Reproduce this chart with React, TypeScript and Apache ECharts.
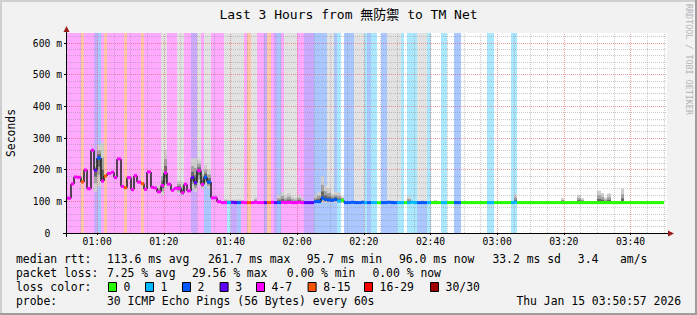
import React, { useEffect, useRef } from "react";
import * as echarts from "echarts";

// ---------------- text ----------------
const TITLE = "Last 3 Hours from 無防禦 to TM Net";
const UNIT_LABEL = "Seconds";
const WATERMARK = "RRDTOOL / TOBI OETIKER";
const RTT_HEAD = "median rtt:";
const rttStats = ["113.6 ms avg", "261.7 ms max", "95.7 ms min", "96.0 ms now", "33.2 ms sd", "3.4", "am/s"];
const LOSS_HEAD = "packet loss:";
const lossStats = ["7.25 % avg", "29.56 % max", "0.00 % min", "0.00 % now"];
const COLOR_HEAD = "loss color:";
const lossLabels = ["0", "1", "2", "3", "4-7", "8-15", "16-29", "30/30"];
const PROBE_HEAD = "probe:";
const PROBE_TEXT = "30 ICMP Echo Pings (56 Bytes) every 60s";
const STAMP_TEXT = "Thu Jan 15 03:50:57 2026";

// ---------------- axes (minutes after midnight) ----------------
const X_START = 50.95; // 00:50:57
const X_END = 230.95; // 03:50:57
const Y_TOP = 631.58;
const FIRST_STEP = 51; // first 60 s step starts at 00:51
const xMajorTicks = [60, 80, 100, 120, 140, 160, 180, 200, 220];
const xMinorTicks = [55, 65, 70, 75, 85, 90, 95, 105, 110, 115, 125, 130, 135, 145, 150, 155, 165, 170, 175, 185, 190, 195, 205, 210, 215, 225, 230];
const yLabelTicks = [0, 100, 200, 300, 400, 500, 600];
const yMajorTicks = [100, 200, 300, 400, 500, 600];
const yMinorTicks = [20, 40, 60, 80, 120, 140, 160, 180, 220, 240, 260, 280, 320, 340, 360, 380, 420, 440, 460, 480, 520, 540, 560, 580, 620];

// ---------------- data, one value per 60 s step ----------------
const medianRtt = [
  110, 155, 177, 176, 161, 199, 140, 261.7, 198, 237,
  164, 180, 188, 192, 175, 234, 147, 143, 175, 137,
  181, 161, 156, 138, 193, 144, 142, 130, 150, 190,
  154, 135, 141, 141, 127, 154, 133, 175, 159, 197,
  153, 176, 161, 111, 111, 99, 96, 96, 96, 97,
  96, 96, 97, 96, 96, 96, 97, 96, 96, 96,
  96, 97, 96, 96, 97, 96, 97, 96, 96, 97,
  96, 96, 96, 96, 99, 99, 110, 106, 104, 103,
  106, 101, 103, 96, 96, 97, 96, 96, 97, 96,
  96, 96, 96, 95.7, 96, 96, 97, 96, 96, 96,
  96, 96, 96, 97, 96, 96, 96, 96, 96, 96,
  96, 96, 96, 96, 96, 96, 96, 96, 96, 96,
  96, 96, 96, 96, 96, 96, 96, 96, 96, 96,
  96, 96, 96, 96, 97, 96, 96, 96, 96, 96,
  96, 96, 96, 96, 96, 96, 96, 96, 96, 96,
  96, 96, 96, 96, 96, 96, 96, 96, 96, 96,
  96, 96, 96, 96, 96, 96, 96, 96, 96, 96,
  96, 96, 96, 96, 96, 96, 96, 96, 96,
];

// loss bucket index: 0="0", 1="1", 2="2", 3="3", 4="4-7", 5="8-15", 6="16-29", 7="30/30"
const lossBin = [
  4, 4, 4, 4, 5, 4, 4, 4, 3, 2,
  4, 5, 4, 4, 4, 4, 4, 5, 4, 4,
  4, 4, 5, 4, 4, 4, 4, 4, 4, 4,
  4, 4, 4, 4, 4, 4, 4, 3, 3, 4,
  4, 2, 2, 4, 4, 4, 4, 4, 1, 3,
  3, 2, 4, 4, 5, 4, 4, 4, 4, 3,
  5, 4, 3, 2, 4, 4, 4, 4, 4, 4,
  4, 3, 3, 3, 2, 2, 2, 2, 2, 2,
  2, 1, 0, 2, 2, 2, 2, 2, 2, 1,
  2, 1, 1, 0, 2, 2, 2, 2, 2, 1,
  1, 0, 1, 1, 1, 2, 2, 2, 1, 0,
  0, 0, 1, 1, 0, 0, 2, 2, 0, 0,
  0, 0, 0, 0, 0, 0, 1, 1, 0, 0,
  0, 0, 0, 1, 1, 0, 0, 0, 0, 0,
  0, 0, 0, 0, 0, 0, 0, 0, 0, 0,
  0, 0, 0, 0, 0, 0, 0, 0, 0, 0,
  0, 0, 0, 0, 0, 0, 0, 0, 0, 0,
  0, 0, 0, 0, 0, 0, 0, 0, 0,
];

const smokeLow = [
  106, 151, 173, 172, 157, 195, 136, 258, 130, 146,
  158, 176, 184, 188, 171, 230, 143, 139, 171, 133,
  177, 157, 152, 134, 189, 140, 138, 124, 120, 140,
  150, 131, 137, 125, 118, 150, 129, 140, 130, 150,
  140, 150, 140, 107, 107, 95, 94, 94, 94, 94,
  94, 94, 94, 94, 94, 94, 94, 94, 94, 94,
  94, 94, 94, 94, 94, 94, 94, 94, 94, 94,
  94, 94, 94, 94, 95, 95, 97, 96, 96, 96,
  96, 95, 95, 94, 94, 94, 94, 94, 94, 94,
  94, 94, 94, 94, 94, 94, 94, 94, 94, 94,
  94, 94, 94, 94, 94, 94, 94, 94, 94, 94,
  94, 94, 94, 94, 94, 94, 94, 94, 94, 94,
  94, 94, 94, 94, 94, 94, 94, 94, 94, 94,
  94, 94, 94, 94, 94, 94, 94, 94, 94, 94,
  94, 94, 94, 94, 94, 94, 94, 94, 94, 94,
  94, 94, 94, 94, 94, 94, 94, 94, 94, 94,
  94, 94, 94, 94, 94, 94, 94, 94, 94, 94,
  94, 94, 94, 94, 94, 94, 94, 94, 94,
];

const smokeHigh = [
  115, 160, 182, 181, 166, 204, 145, 267, 220, 278,
  285, 185, 193, 197, 180, 239, 152, 148, 180, 142,
  186, 166, 161, 143, 198, 149, 147, 150, 200, 262,
  159, 140, 146, 165, 160, 159, 138, 236, 236, 232,
  200, 215, 200, 116, 116, 104, 100, 108, 106, 104,
  106, 106, 104, 99, 100, 99, 112, 99, 100, 99,
  100, 99, 99, 120, 130, 118, 126, 115, 112, 120,
  110, 100, 99, 100, 120, 130, 180, 150, 141, 125,
  130, 128, 115, 100, 99, 100, 104, 99, 103, 99,
  99, 100, 99, 99, 100, 99, 102, 104, 99, 100,
  99, 99, 115, 100, 99, 99, 104, 99, 99, 99,
  104, 99, 99, 100, 99, 99, 100, 99, 99, 99,
  99, 99, 99, 99, 99, 99, 99, 100, 99, 99,
  99, 99, 99, 100, 123, 99, 99, 99, 99, 99,
  99, 99, 99, 99, 99, 99, 99, 99, 110, 99,
  99, 99, 99, 120, 110, 99, 99, 99, 99, 134,
  126, 112, 125, 99, 99, 99, 140, 99, 99, 99,
  99, 99, 99, 99, 99, 99, 99, 99, 99,
];

// steps whose outer smoke runs past the top of the graph
const overflowSteps = [28, 29, 33, 34, 39, 41, 42, 47, 48, 49, 50, 51, 52, 55, 56, 65, 66, 67, 68, 78, 79, 86, 87, 88, 96, 97, 98, 99, 105, 106, 107];

// ---------------- styles ----------------
const LOSS_COLORS = ["#26ff00", "#00b8ff", "#0059ff", "#5e00ff", "#ff00ff", "#ff5500", "#ff0000", "#a00000"];
const LOSS_BG = ["#ffffff", "#aae8ff", "#aac8ff", "#c9aaff", "#ffaaff", "#ffc6aa", "#ffaaaa", "#dfaaaa"];
const SMOKE_LAYERS = [
  { f: 1, c: "#cfcfcf" },
  { f: 0.6, c: "#a2a2a2" },
  { f: 0.3, c: "#676767" },
];
const MONO = "'DejaVu Sans Mono', 'Noto Sans CJK JP', monospace";
const BG = "#f2f2f2";

const pad2 = (n: number) => (n < 10 ? "0" + n : "" + n);
const fmtTime = (v: number) => pad2(Math.floor(v / 60)) + ":" + pad2(Math.round(v % 60));

export default function App() {
  const ref = useRef<HTMLDivElement>(null);

  useEffect(() => {
    if (!ref.current) return;
    const chart = echarts.init(ref.current, undefined, { renderer: "svg" });

    const rows = medianRtt.map((m, i) => [
      FIRST_STEP + i,
      m,
      smokeLow[i],
      smokeHigh[i],
      lossBin[i],
      overflowSteps.indexOf(i) >= 0 ? 1 : 0,
    ]);

    const colX = (api: any, t: number) => Math.round(api.coord([t, 0])[0]);

    const bandItem = (params: any, api: any) => {
      const t = api.value(0);
      const loss = api.value(4);
      if (!loss) return null;
      const x0 = colX(api, t);
      const x1 = colX(api, t + 1);
      const top = api.coord([t, Y_TOP])[1];
      const bot = api.coord([t, 0])[1];
      return {
        type: "rect",
        shape: { x: x0, y: top, width: x1 - x0, height: bot - top },
        style: { fill: LOSS_BG[loss] },
      };
    };

    const smokeItem = (params: any, api: any) => {
      const t = api.value(0);
      const med = api.value(1);
      const lo = api.value(2);
      const hi = api.value(3);
      const over = api.value(5);
      const x0 = colX(api, t);
      const x1 = colX(api, t + 1);
      const children: any[] = [];
      if (over) {
        const top = api.coord([t, Y_TOP])[1];
        const y = api.coord([t, med])[1];
        children.push({ type: "rect", shape: { x: x0, y: top, width: x1 - x0, height: y - top }, style: { fill: "#e2e2e2" } });
      }
      SMOKE_LAYERS.forEach((L) => {
        const l = med - L.f * (med - lo);
        const h = med + L.f * (hi - med);
        const yh = api.coord([t, h])[1];
        const yl = api.coord([t, l])[1];
        children.push({ type: "rect", shape: { x: x0, y: yh, width: x1 - x0, height: yl - yh }, style: { fill: L.c } });
      });
      return { type: "group", children };
    };

    const connectorItem = (params: any, api: any) => {
      const i = params.dataIndexInside;
      if (i === 0) return null;
      const t = api.value(0);
      const m = api.value(1);
      const pm = api.value(1, i - 1);
      const x = colX(api, t);
      const y1 = api.coord([t, pm])[1];
      const y2 = api.coord([t, m])[1];
      return { type: "line", shape: { x1: x, y1, x2: x, y2 }, style: { stroke: "#1c1c1c", lineWidth: 1.5 } };
    };

    const segmentItem = (params: any, api: any) => {
      const t = api.value(0);
      const m = api.value(1);
      const loss = api.value(4);
      const x0 = colX(api, t);
      const x1 = colX(api, t + 1);
      const y = api.coord([t, m])[1];
      return { type: "rect", shape: { x: x0, y: y - 1.5, width: x1 - x0, height: 3 }, style: { fill: LOSS_COLORS[loss] } };
    };

    const gridMajor = { color: "rgba(222,80,80,0.55)", width: 1, type: [1, 1] };
    const gridMinor = { color: "rgba(140,140,140,0.45)", width: 1, type: [1, 1] };
    const markData: any[] = [
      ...xMinorTicks.map((v) => ({ xAxis: v, lineStyle: gridMinor })),
      ...yMinorTicks.map((v) => ({ yAxis: v, lineStyle: gridMinor })),
      ...xMajorTicks.map((v) => ({ xAxis: v, lineStyle: gridMajor })),
      ...yMajorTicks.map((v) => ({ yAxis: v, lineStyle: gridMajor })),
    ];

    const txt = (text: string, x: number, y: number, size: number, align = "left", extra: any = {}) => ({
      type: "text",
      x,
      y,
      z: 50,
      ...extra,
      style: { text, fontFamily: MONO, fontSize: size, fill: extra.fill || "#000", align, verticalAlign: "middle" },
    });

    const LEG = 11.4;
    const ROW = [259, 273, 287, 301];
    const RTT_X = [107, 208, 306.7, 399, 492.4, 577.8, 620];
    const LOSS_X = [107, 192, 286.7, 372.4];
    const BOX_X = [108, 145, 182, 219.6, 256, 307.6, 364, 430];

    const elements: any[] = [
      { type: "rect", z: 60, shape: { x: 0, y: 0, width: 697, height: 2 }, style: { fill: "#cfcfcf" } },
      { type: "rect", z: 60, shape: { x: 0, y: 0, width: 2, height: 315 }, style: { fill: "#cfcfcf" } },
      { type: "rect", z: 60, shape: { x: 0, y: 313, width: 697, height: 2 }, style: { fill: "#9e9e9e" } },
      { type: "rect", z: 60, shape: { x: 695, y: 0, width: 2, height: 315 }, style: { fill: "#9e9e9e" } },
      { type: "line", z: 50, shape: { x1: 63, y1: 233.5, x2: 668, y2: 233.5 }, style: { stroke: "#000", lineWidth: 1 } },
      { type: "line", z: 50, shape: { x1: 66.5, y1: 237, x2: 66.5, y2: 31 }, style: { stroke: "#000", lineWidth: 1 } },
      { type: "polygon", z: 51, shape: { points: [[66.5, 26], [63.5, 32], [69.5, 32]] }, style: { fill: "#9b1b1b" } },
      { type: "polygon", z: 51, shape: { points: [[674, 233.5], [668, 230.5], [668, 236.5]] }, style: { fill: "#9b1b1b" } },
      txt(TITLE, 348.5, 14.5, 13, "center"),
      { type: "text", x: 11, y: 133, rotation: Math.PI / 2, z: 50, style: { text: UNIT_LABEL, fontFamily: MONO, fontSize: LEG, fill: "#000", align: "center", verticalAlign: "middle" } },
      { type: "text", x: 688.5, y: 4, rotation: -Math.PI / 2, z: 50, style: { text: WATERMARK, fontFamily: MONO, fontSize: 8.4, fill: "#b4b4b4", align: "left", verticalAlign: "middle" } },
      txt(RTT_HEAD, 16, ROW[0], LEG),
      ...rttStats.map((s, i) => txt(s, RTT_X[i], ROW[0], LEG)),
      txt(LOSS_HEAD, 16, ROW[1], LEG),
      ...lossStats.map((s, i) => txt(s, LOSS_X[i], ROW[1], LEG)),
      txt(COLOR_HEAD, 16, ROW[2], LEG),
      ...lossLabels.map((s, i) => txt(s, BOX_X[i] + 15.6, ROW[2], LEG)),
      ...LOSS_COLORS.map((c, i) => ({
        type: "rect",
        z: 50,
        shape: { x: BOX_X[i] + 0.5, y: ROW[2] - 4.5, width: 8, height: 9 },
        style: { fill: c, stroke: "#000", lineWidth: 1 },
      })),
      txt(PROBE_HEAD, 16, ROW[3], LEG),
      txt(PROBE_TEXT, 107, ROW[3], LEG),
      txt(STAMP_TEXT, 681, ROW[3], LEG, "right"),
    ];

    const option: any = {
      animation: false,
      backgroundColor: BG,
      grid: { left: 67, top: 33, right: 30, bottom: 82, show: true, backgroundColor: "#ffffff", borderWidth: 0 },
      xAxis: {
        type: "value",
        min: X_START,
        max: X_END,
        splitNumber: 9,
        z: 10,
        axisLine: { show: false },
        axisTick: { show: true, length: 2, customValues: xMajorTicks, lineStyle: { color: "#000" } },
        axisLabel: {
          customValues: xMajorTicks,
          formatter: (v: number) => fmtTime(v),
          fontFamily: MONO,
          fontSize: 9.7,
          color: "#000",
          margin: 4,
        },
        splitLine: { show: false },
      },
      yAxis: {
        type: "value",
        min: 0,
        max: Y_TOP,
        interval: 100,
        z: 10,
        axisLine: { show: false },
        axisTick: { show: true, length: 3, customValues: yLabelTicks, lineStyle: { color: "#000" } },
        axisLabel: {
          customValues: yLabelTicks,
          formatter: (v: number) => (v === 0 ? "{z|0}" : v + " m"),
          fontFamily: MONO,
          fontSize: 9.7,
          color: "#000",
          margin: 5,
          rich: { z: { fontFamily: MONO, fontSize: 9.7, color: "#000", padding: [0, 11.7, 0, 0] } },
        },
        splitLine: { show: false },
      },
      graphic: { elements },
      series: [
        {
          type: "custom",
          name: "loss",
          z: 1,
          silent: true,
          encode: { x: 0, y: 1 },
          data: rows,
          renderItem: bandItem,
          markLine: {
            silent: true,
            z: 5,
            animation: false,
            symbol: ["none", "none"],
            label: { show: false },
            emphasis: { disabled: true },
            data: markData,
          },
        },
        { type: "custom", name: "smoke", z: 2, silent: true, encode: { x: 0, y: 1 }, data: rows, renderItem: smokeItem },
        { type: "custom", name: "median-steps", z: 8, silent: true, encode: { x: 0, y: 1 }, data: rows, renderItem: connectorItem },
        { type: "custom", name: "median", z: 9, silent: true, encode: { x: 0, y: 1 }, data: rows, renderItem: segmentItem },
      ],
    };

    chart.setOption(option);
    return () => chart.dispose();
  }, []);

  return <div ref={ref} style={{ position: "absolute", left: 0, top: 0, width: 697, height: 315 }} />;
}
